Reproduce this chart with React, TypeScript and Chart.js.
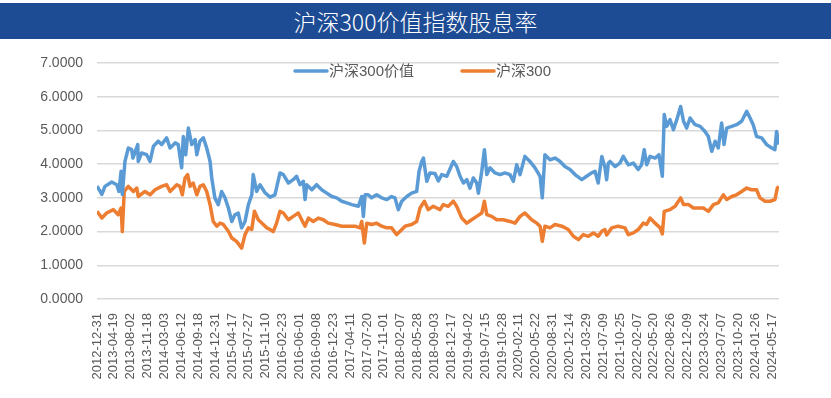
import React, { useEffect, useRef } from 'react';
import { Chart, registerables } from 'chart.js';

Chart.register(...registerables);

const chartTitle = '沪深300价值指数股息率';
const seriesNames = ['沪深300价值', '沪深300'];
const seriesColors = ['#5B9BD5', '#ED7D31'];

const tickLabels = [
  '2012-12-31', '2013-04-19', '2013-08-02', '2013-11-18', '2014-03-03', '2014-06-12',
  '2014-09-18', '2014-12-31', '2015-04-17', '2015-07-27', '2015-11-10', '2016-02-23',
  '2016-06-01', '2016-09-08', '2016-12-23', '2017-04-11', '2017-07-20', '2017-11-01',
  '2018-02-07', '2018-05-28', '2018-09-03', '2018-12-17', '2019-04-02', '2019-07-15',
  '2019-10-28', '2020-02-11', '2020-05-22', '2020-08-31', '2020-12-14', '2021-03-29',
  '2021-07-09', '2021-10-25', '2022-02-07', '2022-05-20', '2022-08-26', '2022-12-09',
  '2023-03-24', '2023-07-07', '2023-10-20', '2024-01-26', '2024-05-17',
];
// trading days between two shown date labels, and index of the last trading day
const labelStep = 70;
const lastDay = 2829;

const yMin = 0;
const yMax = 7;
const yStep = 1;

// 沪深300价值 dividend yield (%), sampled by trading-day index
const valueDays = [
  0, 20, 33, 61, 82, 91, 100, 105, 116, 130, 144, 149, 169, 171, 185, 206, 220, 234, 254, 268,
  289, 303, 324, 337, 351, 358, 368, 379, 393, 407, 414, 427, 441, 455, 469, 476, 489, 503, 517, 531,
  545, 559, 572, 586, 600, 614, 628, 642, 648, 662, 676, 697, 718, 738, 759, 773, 794, 814, 828, 842,
  856, 863, 870, 891, 911, 932, 953, 974, 994, 1015, 1036, 1057, 1084, 1098, 1105, 1112, 1125, 1139, 1160, 1181,
  1202, 1222, 1236, 1250, 1264, 1285, 1305, 1326, 1336, 1347, 1354, 1368, 1381, 1402, 1416, 1430, 1451, 1478, 1492, 1506,
  1520, 1534, 1547, 1561, 1575, 1582, 1596, 1607, 1617, 1630, 1651, 1672, 1692, 1713, 1727, 1741, 1755, 1775, 1796, 1817,
  1838, 1847, 1858, 1879, 1900, 1921, 1941, 1962, 1983, 2011, 2031, 2052, 2066, 2079, 2094, 2107, 2114, 2121, 2128, 2149,
  2169, 2183, 2204, 2225, 2245, 2259, 2270, 2280, 2294, 2315, 2331, 2345, 2353, 2363, 2377, 2391, 2405, 2421, 2433, 2446,
  2460, 2481, 2502, 2522, 2536, 2550, 2564, 2577, 2591, 2601, 2612, 2633, 2653, 2674, 2695, 2709, 2722, 2736, 2757, 2778,
  2799, 2812, 2819, 2829,
];
const valueYield = [
  3.35, 3.10, 3.34, 3.47, 3.39, 3.19, 3.79, 3.10, 4.08, 4.48, 4.43, 4.18, 4.58, 4.08, 4.33, 4.28, 4.08, 4.53, 4.68, 4.58,
  4.78, 4.48, 4.63, 4.58, 3.89, 4.82, 4.28, 5.07, 4.58, 4.73, 4.28, 4.68, 4.78, 4.48, 4.08, 3.59, 3.00, 2.80, 3.19, 3.00,
  2.70, 2.30, 2.50, 2.55, 2.11, 2.30, 2.80, 3.09, 3.69, 3.19, 3.39, 3.15, 3.02, 3.09, 3.74, 3.69, 3.44, 3.54, 3.64, 3.39,
  3.49, 2.95, 3.39, 3.24, 3.39, 3.24, 3.14, 3.04, 3.00, 2.90, 2.85, 2.80, 2.75, 3.04, 2.45, 3.09, 3.09, 3.00, 3.09, 3.00,
  2.95, 3.04, 3.00, 2.65, 2.90, 3.04, 3.14, 3.19, 3.79, 4.08, 4.18, 3.49, 3.74, 3.72, 3.50, 3.69, 3.64, 4.08, 3.93, 3.64,
  3.44, 3.54, 3.29, 3.59, 3.44, 3.14, 3.79, 4.43, 3.69, 3.89, 3.74, 3.69, 3.74, 3.69, 3.49, 3.98, 3.69, 4.23, 4.08, 3.89,
  3.64, 3.00, 4.28, 4.13, 4.18, 4.08, 3.93, 3.84, 3.69, 3.54, 3.64, 3.74, 3.79, 3.44, 4.23, 3.91, 3.54, 4.03, 4.08, 3.93,
  4.03, 4.23, 3.98, 4.03, 3.84, 3.98, 4.43, 3.98, 4.23, 4.18, 4.28, 3.64, 5.47, 5.12, 5.32, 5.02, 5.32, 5.71, 5.27, 5.07,
  5.37, 5.17, 5.12, 4.97, 4.82, 4.38, 4.68, 4.48, 5.22, 4.58, 5.07, 5.12, 5.17, 5.27, 5.57, 5.37, 5.17, 4.82, 4.78, 4.58,
  4.48, 4.43, 4.97, 4.58,
];

// 沪深300 dividend yield (%), sampled by trading-day index
const csiDays = [
  0, 20, 40, 68, 88, 100, 105, 113, 130, 151, 165, 171, 199, 220, 241, 268, 289, 303, 331, 344,
  354, 365, 376, 386, 399, 414, 427, 441, 455, 469, 482, 497, 510, 524, 545, 559, 579, 600, 614, 628,
  642, 653, 669, 690, 704, 718, 731, 745, 759, 773, 794, 814, 835, 849, 863, 877, 897, 918, 939, 959,
  987, 1015, 1042, 1070, 1091, 1098, 1109, 1119, 1139, 1160, 1181, 1202, 1222, 1243, 1257, 1278, 1305, 1326, 1340, 1358,
  1374, 1395, 1409, 1423, 1436, 1457, 1478, 1492, 1513, 1534, 1554, 1575, 1596, 1607, 1617, 1637, 1658, 1685, 1713, 1734,
  1755, 1775, 1803, 1824, 1838, 1847, 1858, 1879, 1900, 1928, 1955, 1976, 1997, 2017, 2038, 2059, 2079, 2094, 2107, 2114,
  2135, 2162, 2190, 2204, 2225, 2245, 2266, 2280, 2294, 2315, 2336, 2345, 2353, 2377, 2398, 2421, 2433, 2454, 2474, 2495,
  2515, 2536, 2557, 2577, 2598, 2612, 2633, 2653, 2674, 2695, 2715, 2736, 2750, 2771, 2792, 2812, 2822, 2829,
];
const csiYield = [
  2.60, 2.40, 2.55, 2.65, 2.50, 2.70, 2.00, 3.19, 3.34, 3.19, 3.29, 3.04, 3.19, 3.09, 3.24, 3.34, 3.39, 3.19, 3.39, 3.34,
  3.09, 3.59, 3.69, 3.34, 3.44, 3.09, 3.34, 3.39, 3.19, 2.80, 2.30, 2.16, 2.25, 2.21, 2.01, 1.81, 1.71, 1.51, 1.91, 2.11,
  2.06, 2.60, 2.35, 2.21, 2.11, 2.06, 2.00, 2.25, 2.60, 2.55, 2.35, 2.45, 2.55, 2.35, 2.16, 2.40, 2.30, 2.40, 2.35, 2.25,
  2.21, 2.16, 2.16, 2.16, 2.11, 2.30, 1.66, 2.25, 2.21, 2.25, 2.16, 2.11, 2.11, 1.91, 2.01, 2.16, 2.21, 2.30, 2.70, 2.90,
  2.65, 2.75, 2.70, 2.65, 2.80, 2.75, 2.90, 2.75, 2.40, 2.25, 2.35, 2.45, 2.55, 2.90, 2.50, 2.45, 2.35, 2.35, 2.30, 2.25,
  2.45, 2.55, 2.35, 2.25, 2.16, 1.71, 2.16, 2.11, 2.21, 2.16, 2.06, 1.86, 1.76, 1.91, 1.86, 1.96, 1.86, 2.01, 2.06, 1.90,
  2.11, 2.16, 2.11, 1.91, 1.96, 2.06, 2.25, 2.21, 2.40, 2.25, 2.11, 1.93, 2.60, 2.65, 2.75, 3.00, 2.80, 2.80, 2.70, 2.70,
  2.70, 2.60, 2.80, 2.85, 3.09, 2.95, 3.04, 3.09, 3.19, 3.29, 3.24, 3.24, 3.00, 2.90, 2.90, 2.95, 3.29, 3.34,
];

const textColor = '#595959';
const gridColor = '#d9d9d9';
const latinFont = '"Liberation Sans", Arial, "Noto Sans CJK SC", sans-serif';

const innerLegend = {
  id: 'innerLegend',
  afterDraw(chart: any) {
    const ctx = chart.ctx;
    const area = chart.chartArea;
    const y = area.top + 8;
    const starts = [area.left + 198, area.left + 365];
    ctx.save();
    ctx.font = `15px ${latinFont}`;
    ctx.textBaseline = 'middle';
    ctx.textAlign = 'left';
    chart.data.datasets.forEach((ds: any, i: number) => {
      const x = starts[i];
      ctx.strokeStyle = ds.borderColor;
      ctx.lineWidth = 3.5;
      ctx.lineCap = 'round';
      ctx.beginPath();
      ctx.moveTo(x, y);
      ctx.lineTo(x + 32, y);
      ctx.stroke();
      ctx.fillStyle = textColor;
      ctx.fillText(ds.label, x + 34, y + 1);
    });
    ctx.restore();
  },
};

export default function App() {
  const ref = useRef<HTMLCanvasElement>(null);

  useEffect(() => {
    if (!ref.current) return;
    const toPoints = (days: number[], vals: number[]) => days.map((d, i) => ({ x: d, y: vals[i] }));
    const chart = new Chart(ref.current, {
      type: 'line',
      data: {
        datasets: [
          {
            label: seriesNames[0],
            data: toPoints(valueDays, valueYield),
            borderColor: seriesColors[0],
            backgroundColor: seriesColors[0],
            borderWidth: 3.5,
            pointRadius: 0,
            tension: 0,
            borderJoinStyle: 'round',
          },
          {
            label: seriesNames[1],
            data: toPoints(csiDays, csiYield),
            borderColor: seriesColors[1],
            backgroundColor: seriesColors[1],
            borderWidth: 3.5,
            pointRadius: 0,
            tension: 0,
            borderJoinStyle: 'round',
          },
        ],
      },
      options: {
        responsive: false,
        animation: false,
        layout: { padding: { left: 0, top: 63, right: 52, bottom: 0 } },
        plugins: {
          legend: { display: false },
          title: { display: false },
          tooltip: { enabled: false },
        },
        scales: {
          x: {
            type: 'linear',
            min: 0,
            max: lastDay,
            grid: { display: false },
            border: { display: false },
            afterBuildTicks: (scale: any) => {
              scale.ticks = tickLabels.map((_, i) => ({ value: i * labelStep }));
            },
            afterFit: (scale: any) => {
              scale.height = 99;
            },
            ticks: {
              autoSkip: false,
              maxRotation: 90,
              minRotation: 90,
              padding: 6,
              color: textColor,
              font: { family: latinFont, size: 13 },
              callback: (v: any) => tickLabels[Math.round(Number(v) / labelStep)] ?? '',
            },
          },
          y: {
            min: yMin,
            max: yMax,
            grid: { color: gridColor, lineWidth: 1.5, drawTicks: false },
            border: { display: false },
            afterFit: (scale: any) => {
              scale.width = 97;
            },
            ticks: {
              stepSize: yStep,
              padding: 14,
              color: textColor,
              font: { family: latinFont, size: 14 },
              callback: (v: any) => Number(v).toFixed(4),
            },
          },
        },
      },
      plugins: [innerLegend],
    } as any);
    return () => chart.destroy();
  }, []);

  return (
    <div style={{ position: 'fixed', left: 0, top: 0, width: 831, height: 398, background: '#ffffff' }}>
      <div
        style={{
          position: 'absolute',
          left: 0,
          top: 3,
          width: 831,
          height: 36,
          background: '#1d4b94',
          color: '#ffffff',
          fontFamily: '"Noto Sans CJK SC", sans-serif',
          fontSize: 23,
          fontWeight: 300,
          lineHeight: '36px',
          textAlign: 'center',
        }}
      >
        {chartTitle}
      </div>
      <canvas ref={ref} width={831} height={398} style={{ position: 'absolute', left: 0, top: 0 }} />
    </div>
  );
}
